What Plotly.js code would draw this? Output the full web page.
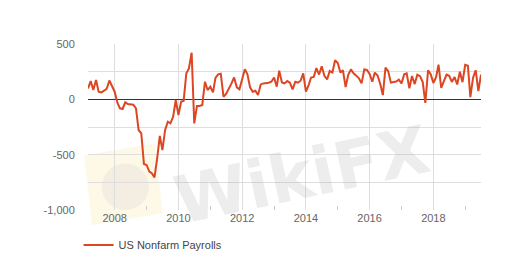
<!DOCTYPE html>
<html>
<head>
<meta charset="utf-8">
<script src="https://cdn.plot.ly/plotly-3.0.1.min.js"></script>
<style>
  html, body { margin: 0; padding: 0; background: #ffffff; }
  #chart { width: 531px; height: 254px; }
</style>
</head>
<body>
<div id="chart"></div>
<script>
// US Nonfarm Payrolls, monthly change (thousands), by reference month.
// Each value is plotted at the start of the following month (release month).
const seriesName = 'US Nonfarm Payrolls';
const firstYear = 2007;
const firstMonth2007 = 2; // February 2007
const payrolls2007 = [99, 165, 84, 175, 69, 63, 78, 95, 170, 120, 69];
const payrolls2008 = [-30, -81, -87, -27, -42, -45, -48, -81, -277, -307, -584, -593];
const payrolls2009 = [-653, -668, -705, -540, -330, -458, -277, -202, -217, -157, -6, -142];
const payrolls2010 = [-21, -15, 235, 280, 421, -217, -60, -60, -51, 159, 84, 114];
const payrolls2011 = [63, 194, 226, 232, 24, 48, 90, 144, 198, 108, 90, 190];
const payrolls2012 = [271, 229, 108, 69, 78, 39, 135, 144, 144, 150, 159, 198];
const payrolls2013 = [114, 259, 153, 144, 165, 150, 90, 159, 150, 168, 235, 69];
const payrolls2014 = [129, 197, 203, 282, 224, 298, 212, 180, 256, 243, 353, 329];
const payrolls2015 = [241, 264, 110, 221, 271, 235, 214, 190, 144, 270, 265, 229];
const payrolls2016 = [159, 242, 215, 144, 38, 287, 255, 151, 156, 161, 178, 144];
const payrolls2017 = [227, 235, 99, 211, 138, 222, 209, 156, -33, 261, 228, 148];
const payrolls2018 = [200, 313, 103, 164, 223, 213, 157, 201, 134, 250, 155, 312];
const payrolls2019 = [304, 20, 196, 263, 75, 224];

const yTickVals = [-1000, -750, -500, -250, 0, 250, 500];
const yTickText = ['-1,000', '', '-500', '', '0', '', '500'];

const yearly = [
  payrolls2007, payrolls2008, payrolls2009, payrolls2010, payrolls2011,
  payrolls2012, payrolls2013, payrolls2014, payrolls2015, payrolls2016,
  payrolls2017, payrolls2018, payrolls2019
];

function plotDate(year, month) {
  let y = year, m = month + 1;
  if (m > 12) { m = 1; y += 1; }
  return y + '-' + String(m).padStart(2, '0') + '-01';
}

const xs = [], ys = [];
yearly.forEach(function (arr, i) {
  const year = firstYear + i;
  const start = (i === 0) ? firstMonth2007 : 1;
  arr.forEach(function (v, j) {
    xs.push(plotDate(year, start + j));
    ys.push(v);
  });
});

const trace = {
  type: 'scatter',
  mode: 'lines',
  name: seriesName,
  x: xs,
  y: ys,
  line: { color: '#dc4622', width: 2 },
  showlegend: true,
  hoverinfo: 'x+y'
};

const font = 'Liberation Sans, Arial, sans-serif';

const layout = {
  width: 531,
  height: 254,
  margin: { l: 88, r: 50, t: 44, b: 44, autoexpand: false },
  paper_bgcolor: '#ffffff',
  plot_bgcolor: 'rgba(0,0,0,0)',
  font: { family: font, size: 11, color: '#666666' },
  showlegend: true,
  legend: {
    orientation: 'h',
    xref: 'container', yref: 'container',
    x: 0.148, xanchor: 'left',
    y: 0.035, yanchor: 'middle',
    font: { family: font, size: 11, color: '#444444' },
    itemwidth: 30,
    bgcolor: 'rgba(0,0,0,0)'
  },
  xaxis: {
    type: 'date',
    range: [xs[0], xs[xs.length - 1]],
    dtick: 'M24',
    tick0: '2008-01-01',
    tickformat: '%Y',
    ticks: '',
    showgrid: true,
    gridcolor: '#dedede',
    gridwidth: 1,
    zeroline: false,
    showline: false,
    automargin: false,
    tickfont: { family: font, size: 11, color: '#666666' },
    minor: { dtick: 'M12', tick0: '2007-01-01', ticks: 'inside', ticklen: 4, tickcolor: '#cccccc', showgrid: false },
    fixedrange: true
  },
  yaxis: {
    range: [-1000, 500],
    tickvals: yTickVals,
    ticktext: yTickText,
    ticks: 'outside',
    ticklen: 10,
    tickcolor: 'rgba(0,0,0,0)',
    showgrid: true,
    gridcolor: '#dedede',
    gridwidth: 1,
    zeroline: true,
    zerolinecolor: '#333333',
    zerolinewidth: 1,
    showline: false,
    automargin: false,
    tickfont: { family: font, size: 11, color: '#666666' },
    fixedrange: true
  },
  shapes: [
    {
      type: 'path', xref: 'paper', yref: 'paper', layer: 'below',
      path: 'M -0.01,0.33 L 0.17,0.40 L 0.19,-0.02 L 0.01,-0.09 Z',
      fillcolor: 'rgba(252,236,185,0.35)', line: { width: 0 }
    },
    {
      type: 'circle', xref: 'paper', yref: 'paper', layer: 'below',
      x0: 0.035, x1: 0.155, y0: 0.0, y1: 0.28,
      fillcolor: 'rgba(205,205,205,0.22)', line: { width: 0 }
    }
  ],
  annotations: [
    {
      text: 'WikiFX', xref: 'paper', yref: 'paper', x: 0.545, y: 0.21,
      xanchor: 'center', yanchor: 'middle',
      showarrow: false, textangle: -12,
      font: { family: 'DejaVu Sans, sans-serif', size: 66, color: 'rgba(175,175,175,0.22)', weight: 'bold' }
    }
  ]
};

Plotly.newPlot('chart', [trace], layout, { displayModeBar: false, staticPlot: true });
</script>
</body>
</html>
